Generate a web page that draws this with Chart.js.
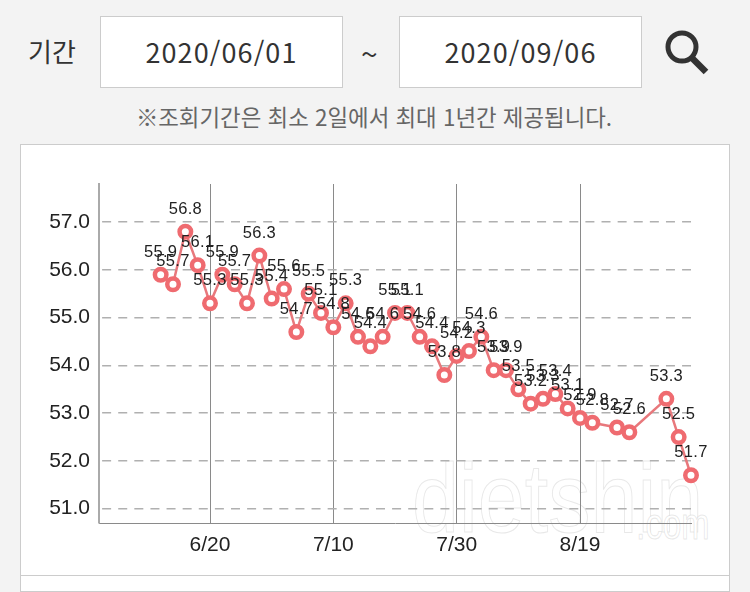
<!DOCTYPE html>
<html lang="ko"><head><meta charset="utf-8">
<style>
html,body{margin:0;padding:0;width:750px;height:592px;overflow:hidden;background:#f3f3f3;font-family:"Noto Sans CJK KR",sans-serif;color:#333}
.abs{position:absolute}
.box{background:#fff;border:1px solid #ccc;box-sizing:border-box;top:16px;width:243px;height:72px;text-align:center;line-height:70px;font-size:27px;letter-spacing:1.1px;color:#333}
#card{left:20px;top:144px;width:710px;height:448px;background:#fff;border:1px solid #ccc;box-sizing:border-box}
#sep{left:21px;top:575px;width:708px;height:1px;background:#ccc}
#wrap{left:21px;top:145px;width:708px;height:430px}
.wm{font-family:"Liberation Sans",sans-serif;color:#fff;-webkit-text-stroke:1px rgba(150,150,150,.22);transform-origin:0 0;white-space:nowrap;pointer-events:none}
</style></head><body>
<div class="abs" style="left:28px;top:32px;font-size:26px;line-height:38px">기간</div>
<div class="abs box" style="left:100px">2020/06/01</div>
<div class="abs" style="left:361px;top:35px;font-size:30px;line-height:36px">~</div>
<div class="abs box" style="left:399px">2020/09/06</div>
<svg class="abs" style="left:660px;top:26px" width="54" height="54" viewBox="0 0 54 54"><circle cx="22" cy="21" r="14" fill="none" stroke="#333" stroke-width="5"/><line x1="32" y1="32" x2="46" y2="46" stroke="#333" stroke-width="6.5" stroke-linecap="butt"/></svg>
<div class="abs" style="left:0;top:100px;width:748px;text-align:center;font-size:22.4px;line-height:32px;color:#666">※조회기간은 최소 2일에서 최대 1년간 제공됩니다.</div>
<div class="abs" id="card"></div>
<div class="abs" id="sep"></div>
<div class="abs wm" style="left:412px;top:442px;font-size:96px;line-height:110px;transform:scale(.88,1.02);">dietshin</div>
<div class="abs wm" style="left:636px;top:498px;font-size:40px;line-height:46px;transform:scale(.85,1.1);">.com</div>
<div class="abs" id="wrap"><canvas id="c" width="708" height="430"></canvas></div>
<script src="https://cdn.jsdelivr.net/npm/chart.js@4"></script>
<script>
const categories=["6/2","6/4","6/6","6/8","6/10","6/12","6/14","6/16","6/18","6/20","6/22","6/24","6/26","6/28","6/30","7/2","7/4","7/6","7/8","7/10","7/12","7/14","7/16","7/18","7/20","7/22","7/24","7/26","7/28","7/30","8/1","8/3","8/5","8/7","8/9","8/11","8/13","8/15","8/17","8/19","8/21","8/23","8/25","8/27","8/29","8/31","9/2","9/4","9/6"];
const weights=[null,null,null,null,null,55.9,55.7,56.8,56.1,55.3,55.9,55.7,55.3,56.3,55.4,55.6,54.7,55.5,55.1,54.8,55.3,54.6,54.4,54.6,55.1,55.1,54.6,54.4,53.8,54.2,54.3,54.6,53.9,53.9,53.5,53.2,53.3,53.4,53.1,52.9,52.8,null,52.7,52.6,null,null,53.3,52.5,51.7];
const xTickLabels=["6/20","7/10","7/30","8/19"];
const yTickValues=[51,52,53,54,55,56,57];
const valueLabels={id:'valueLabels',afterDatasetsDraw(chart){
  const ctx=chart.ctx,meta=chart.getDatasetMeta(0);
  ctx.save();ctx.font='16.5px "Liberation Sans",sans-serif';ctx.letterSpacing='0.3px';ctx.fillStyle='#222';ctx.textAlign='center';ctx.textBaseline='alphabetic';
  meta.data.forEach((p,i)=>{if(weights[i]!==null)ctx.fillText(weights[i].toFixed(1),p.x,p.y-18);});
  ctx.restore();}};
new Chart(document.getElementById('c'),{type:'line',
 data:{labels:categories,datasets:[{data:weights,spanGaps:true,clip:false,borderColor:'#e8787c',borderWidth:2.5,tension:0,pointRadius:5.75,pointBorderWidth:4.5,pointBackgroundColor:'#fff',pointBorderColor:'#ef6b70'}]},
 plugins:[valueLabels],
 options:{responsive:false,animation:false,events:[],
  layout:{padding:{left:0,right:38,top:39,bottom:0}},
  plugins:{legend:{display:false},tooltip:{enabled:false}},
  scales:{
   x:{type:'category',offset:false,
    afterBuildTicks(s){s.ticks=s.ticks.filter(t=>xTickLabels.includes(categories[t.value]));},
    afterFit(s){s.height=52;},
    ticks:{autoSkip:false,maxRotation:0,color:'#222',font:{family:'"Liberation Sans",sans-serif',size:21},padding:10},
    grid:{color:'#8a8a8a',lineWidth:1,drawTicks:false},border:{color:'#8a8a8a',width:1}},
   y:{min:50.7,max:57.8,
    afterBuildTicks(s){s.ticks=yTickValues.map(v=>({value:v}));},
    afterFit(s){s.width=78;},
    ticks:{color:'#222',font:{family:'"Liberation Sans",sans-serif',size:21},padding:9,callback:v=>v.toFixed(1)},
    grid:{color:'#b0b0b0',lineWidth:1.5,drawTicks:false},
    border:{color:'#aaa',width:2,dash:[9,7.11],dashOffset:14}}
  }}});
</script></body></html>
